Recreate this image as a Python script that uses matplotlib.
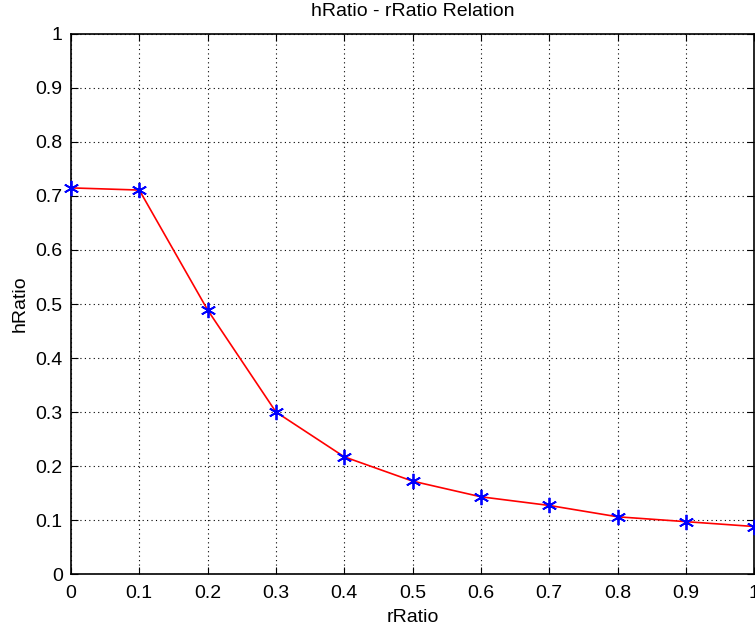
import numpy as np
import matplotlib
matplotlib.use('Agg')
import matplotlib.pyplot as plt

# data
r_ratio = [0.0, 0.1, 0.2, 0.3, 0.4, 0.5, 0.6, 0.7, 0.8, 0.9, 1.0]
h_ratio = [0.715, 0.711, 0.489, 0.300, 0.217, 0.172, 0.143, 0.127, 0.106, 0.097, 0.088]

x_ticks = [0, 0.1, 0.2, 0.3, 0.4, 0.5, 0.6, 0.7, 0.8, 0.9, 1]
y_ticks = [0, 0.1, 0.2, 0.3, 0.4, 0.5, 0.6, 0.7, 0.8, 0.9, 1]
tick_labels = ['0', '0.1', '0.2', '0.3', '0.4', '0.5', '0.6', '0.7', '0.8', '0.9', '1']

plt.rcParams['font.family'] = ['Liberation Sans', 'DejaVu Sans']
plt.rcParams['font.size'] = 14

fig = plt.figure(figsize=(7.55, 6.35), dpi=100)
ax = fig.add_axes([0.094, 0.096, 0.905, 0.8505])

ax.plot(r_ratio, h_ratio, color='red', linewidth=1.2, zorder=3)
ax.plot(r_ratio, h_ratio, linestyle='none', marker=(6, 2, 0), markersize=11,
        markeredgecolor='blue', markeredgewidth=1.3, zorder=4, clip_on=False)

ax.set_xlim(0, 1)
ax.set_ylim(0, 1)
ax.set_xticks(x_ticks)
ax.set_xticklabels(tick_labels)
ax.set_yticks(y_ticks)
ax.set_yticklabels(tick_labels)
ax.tick_params(direction='in', length=5, width=0.8, top=True, right=True)
ax.tick_params(axis='x', pad=8)
ax.tick_params(axis='y', pad=6)

ax.grid(True, color='black', linestyle=(0, (1, 3)), linewidth=0.8)
for s in ax.spines.values():
    s.set_linewidth(1.2)

ax.set_title('hRatio - rRatio Relation', fontsize=14, pad=13)
ax.set_xlabel('rRatio', fontsize=14, labelpad=5)
ax.set_ylabel('hRatio', fontsize=14, labelpad=5)

fig.savefig('out.png', dpi=100)
